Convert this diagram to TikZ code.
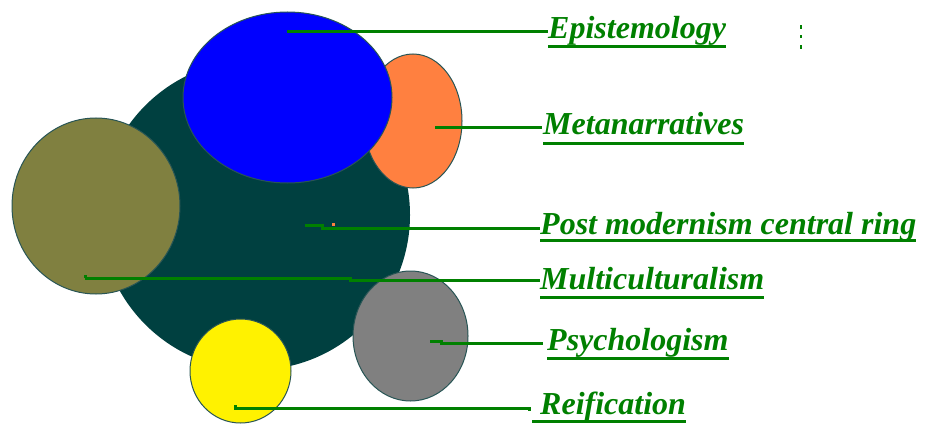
\documentclass[tikz,border=0pt]{standalone}
\usepackage{fontspec}
\setmainfont{Liberation Serif}
\definecolor{ring}{RGB}{0,64,64}
\definecolor{edgecol}{RGB}{40,85,85}
\definecolor{orng}{RGB}{255,128,64}
\definecolor{olv}{RGB}{128,128,64}
\definecolor{gry}{RGB}{128,128,128}
\definecolor{lgreen}{RGB}{0,128,0}
\begin{document}
\begin{tikzpicture}[x=1pt,y=-1pt,
  blob/.style={draw=edgecol, line width=1pt},
  lead/.style={draw=lgreen, line width=3pt},
  lbl/.style={anchor=base west, inner sep=0pt, text=lgreen,
    font=\fontsize{32}{36}\selectfont\bfseries\itshape},
  uline/.style={draw=lgreen, line width=3pt}]
\useasboundingbox[fill=white] (0,0) rectangle (925,425);

% shapes
\fill[ring] (255,215) ellipse [x radius=155, y radius=155];
\path[blob, fill=olv] (96,206) ellipse [x radius=84, y radius=88];
\path[blob, fill=orng] (413,121) ellipse [x radius=49, y radius=67];
\path[blob, fill=blue] (287.5,97.5) ellipse [x radius=104.5, y radius=85.5];
\path[blob, fill=gry] (410.5,336) ellipse [x radius=57.5, y radius=65];
\path[blob, fill=yellow] (240.5,371) ellipse [x radius=50.5, y radius=52];

% small marks
\fill[orng] (332,223) rectangle (335,225.5);
\fill[lgreen] (800,25) rectangle (802,29);
\fill[lgreen] (800,35.5) rectangle (802,38);
\fill[lgreen] (800,45) rectangle (802,49);

% labels
\node[lbl] (epi) at (548,39) {Epistemology};
\node[lbl] (meta) at (543,135) {Metanarratives};
\node[lbl] (pm) at (540,234) {Post modernism central ring};
\node[lbl] (mc) at (540,289) {Multiculturalism};
\node[lbl] (psy) at (547,350) {Psychologism};
\node[lbl] (rei) at (540,414) {Reification};

% underlines
\draw[uline] ([yshift=-8pt]epi.base west) -- ([yshift=-8pt]epi.base east);
\draw[uline] ([yshift=-8pt]meta.base west) -- ([yshift=-8pt]meta.base east);
\draw[uline] ([yshift=-6pt]pm.base west) -- ([yshift=-6pt]pm.base east);
\draw[uline] ([yshift=-8pt]mc.base west) -- ([yshift=-8pt]mc.base east);
\draw[uline] ([yshift=-8pt]psy.base west) -- ([yshift=-8pt]psy.base east);
\draw[uline] ([xshift=-8pt,yshift=-7pt]rei.base west) -- ([yshift=-7pt]rei.base east);

% leader lines
\coordinate (epi-s) at (287,31.5);
\coordinate (meta-s) at (435,127);
\coordinate (pm-s) at (305,225.5);
\coordinate (pm-k) at (322,228);
\coordinate (mc-s) at (85,278);
\coordinate (mc-k) at (350,280.5);
\coordinate (psy-s) at (430,341.5);
\coordinate (psy-k) at (441,343.5);
\coordinate (rei-s) at (235,408);
\coordinate (rei-e) at (529,408);

\draw[lead] (epi-s) -- (epi-s -| epi.west);
\draw[lead] (meta-s) -- ([xshift=-1pt]meta-s -| meta.west);
\draw[lead] (pm-s) -- (pm-s -| pm-k) -- (pm-k) -- (pm-k -| pm.west);
\draw[lead] (mc-s) -- (mc-s -| mc-k) -- (mc-k) -- (mc-k -| mc.west);
\draw[lead] (psy-s) -- (psy-s -| psy-k) -- (psy-k) -- ([xshift=-4pt]psy-k -| psy.west);
\draw[lead] ([yshift=3pt]rei-s) -- (rei-s) -- (rei-e) -- ([yshift=-3pt]rei-e);
\draw[lead] ([yshift=3pt]mc-s) -- (mc-s);
\end{tikzpicture}
\end{document}
